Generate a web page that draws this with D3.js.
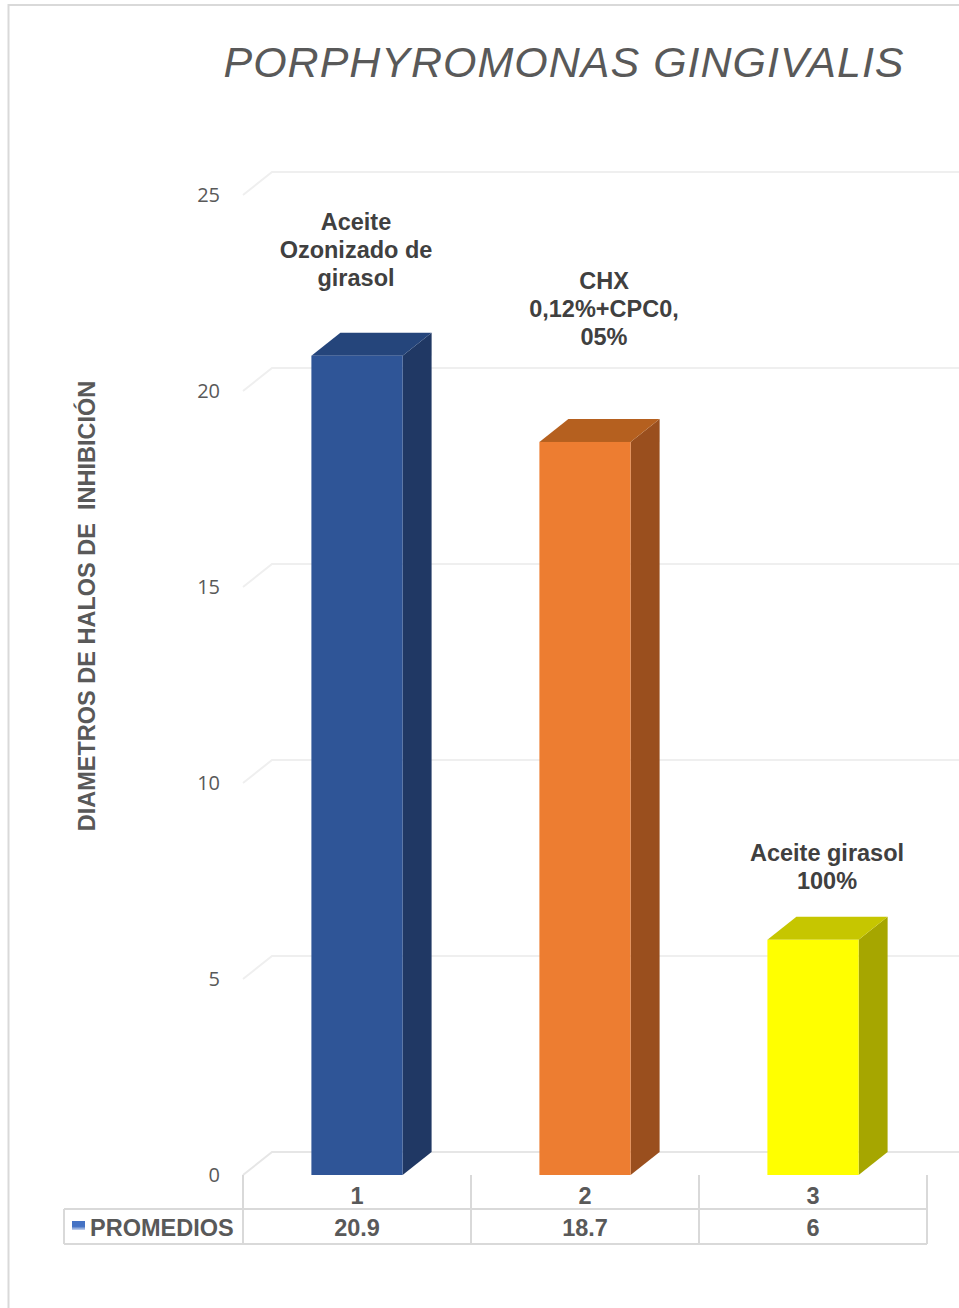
<!DOCTYPE html>
<html>
<head>
<meta charset="utf-8">
<style>
  body { margin: 0; background: #fff; }
  svg { font-family: "Liberation Sans", Arial, sans-serif; }
</style>
</head>
<body>
<div id="chart"></div>
<script src="https://d3js.org/d3.v7.min.js"></script>
<script>
// data
const categories = ["1", "2", "3"];
const promedios = [20.9, 18.7, 6];
const barLabels = [
  ["Aceite", "Ozonizado de", "girasol"],
  ["CHX", "0,12%+CPC0,", "05%"],
  ["Aceite girasol", "100%"]
];
const yTicks = [0, 5, 10, 15, 20, 25];
const seriesName = "PROMEDIOS";

const width = 959, height = 1308;
const svg = d3.select("#chart").append("svg")
  .attr("width", width)
  .attr("height", height);

// outer frame (right and bottom edges fall outside the picture)
svg.append("rect")
  .attr("x", 8.5).attr("y", 5)
  .attr("width", 980).attr("height", 1320)
  .attr("fill", "none").attr("stroke", "#d9d9d9").attr("stroke-width", 2);

// 3d depth
const dx = 29, dy = -23;

const x = d3.scaleBand().domain(categories).range([243, 927]);
const y = d3.scaleLinear().domain([0, 25]).range([1175, 195]);

const barW = x.bandwidth() * 0.4;

// back wall gridlines
const grid = svg.append("g");
yTicks.forEach(t => {
  grid.append("path")
    .attr("d", `M243,${y(t)} L${243 + dx},${y(t) + dy} L${width},${y(t) + dy}`)
    .attr("fill", "none")
    .attr("stroke", t === 0 ? "#e6e6e6" : "#efefef")
    .attr("stroke-width", 2);
});

// y tick labels
svg.append("g").selectAll("text")
  .data(yTicks)
  .join("text")
  .attr("x", 220)
  .attr("y", d => y(d) + 7)
  .attr("text-anchor", "end")
  .attr("font-family", "'Open Sans', sans-serif")
  .attr("font-size", 20)
  .attr("fill", "#595959")
  .text(d => d);

// colors: front, top, side
const colors = [
  ["#2F5597", "#25457B", "#203864"],
  ["#ED7D31", "#B5601F", "#9A4F1E"],
  ["#FFFF00", "#C6C600", "#A6A600"]
];

const bars = svg.append("g");
categories.forEach((c, i) => {
  const x0 = x(c) + (x.bandwidth() - barW) / 2;
  const x1 = x0 + barW;
  const yt = y(promedios[i]);
  const yb = y(0);
  // side
  bars.append("path")
    .attr("d", `M${x1},${yt} L${x1 + dx},${yt + dy} L${x1 + dx},${yb + dy} L${x1},${yb} Z`)
    .attr("fill", colors[i][2]);
  // top
  bars.append("path")
    .attr("d", `M${x0},${yt} L${x0 + dx},${yt + dy} L${x1 + dx},${yt + dy} L${x1},${yt} Z`)
    .attr("fill", colors[i][1]);
  // front
  bars.append("rect")
    .attr("x", x0).attr("y", yt)
    .attr("width", barW).attr("height", yb - yt)
    .attr("fill", colors[i][0]);
});

// data labels (placed by hand like in the original)
const labelNudge = [[-1, -126], [19, -153], [14, -79]];
const labels = svg.append("g")
  .attr("font-weight", "bold")
  .attr("font-size", 23.5)
  .attr("fill", "#404040")
  .attr("text-anchor", "middle");
barLabels.forEach((lines, i) => {
  const cx = x(categories[i]) + x.bandwidth() / 2 + labelNudge[i][0];
  const y0 = y(promedios[i]) + labelNudge[i][1];
  lines.forEach((l, k) => {
    labels.append("text")
      .attr("x", cx)
      .attr("y", y0 + k * 28)
      .text(l);
  });
});

// title
svg.append("text")
  .attr("x", 564)
  .attr("y", 77)
  .attr("text-anchor", "middle")
  .attr("font-size", 43)
  .attr("font-style", "italic")
  .attr("letter-spacing", 1)
  .attr("fill", "#595959")
  .text("PORPHYROMONAS GINGIVALIS");

// y axis title
svg.append("text")
  .attr("transform", "translate(95,606) rotate(-90)")
  .attr("text-anchor", "middle")
  .attr("font-size", 23.5)
  .attr("font-weight", "bold")
  .attr("fill", "#595959")
  .attr("xml:space", "preserve")
  .style("white-space", "pre")
  .text("DIAMETROS DE HALOS DE  INHIBICIÓN");

// data table
const tbl = svg.append("g").attr("stroke", "#d9d9d9").attr("stroke-width", 2).attr("fill", "none");
const rowTop = 1209, rowBot = 1244;
x.domain().forEach(c => {
  tbl.append("line").attr("x1", x(c)).attr("x2", x(c)).attr("y1", y(0)).attr("y2", rowBot);
});
tbl.append("line").attr("x1", 927).attr("x2", 927).attr("y1", y(0)).attr("y2", rowBot);
tbl.append("line").attr("x1", 64).attr("x2", 64).attr("y1", rowTop).attr("y2", rowBot);
tbl.append("line").attr("x1", 64).attr("x2", 927).attr("y1", rowTop).attr("y2", rowTop);
tbl.append("line").attr("x1", 64).attr("x2", 927).attr("y1", rowBot).attr("y2", rowBot);

const tt = svg.append("g")
  .attr("font-weight", "bold")
  .attr("font-size", 23.5)
  .attr("fill", "#595959")
  .attr("text-anchor", "middle");
categories.forEach((c, i) => {
  const cx = x(c) + x.bandwidth() / 2;
  tt.append("text").attr("x", cx).attr("y", 1204).text(c);
  tt.append("text").attr("x", cx).attr("y", 1236).text(promedios[i]);
});

// legend key
const grad = svg.append("defs").append("linearGradient")
  .attr("id", "key").attr("x1", 0).attr("y1", 0).attr("x2", 0).attr("y2", 1);
grad.append("stop").attr("offset", "0%").attr("stop-color", "#4472C4");
grad.append("stop").attr("offset", "60%").attr("stop-color", "#4472C4");
grad.append("stop").attr("offset", "100%").attr("stop-color", "#c9d6ee");
svg.append("rect")
  .attr("x", 72).attr("y", 1221).attr("width", 13).attr("height", 9)
  .attr("fill", "url(#key)");
svg.append("text")
  .attr("x", 90).attr("y", 1236)
  .attr("font-weight", "bold")
  .attr("font-size", 23.5)
  .attr("fill", "#595959")
  .text(seriesName);
</script>
</body>
</html>
